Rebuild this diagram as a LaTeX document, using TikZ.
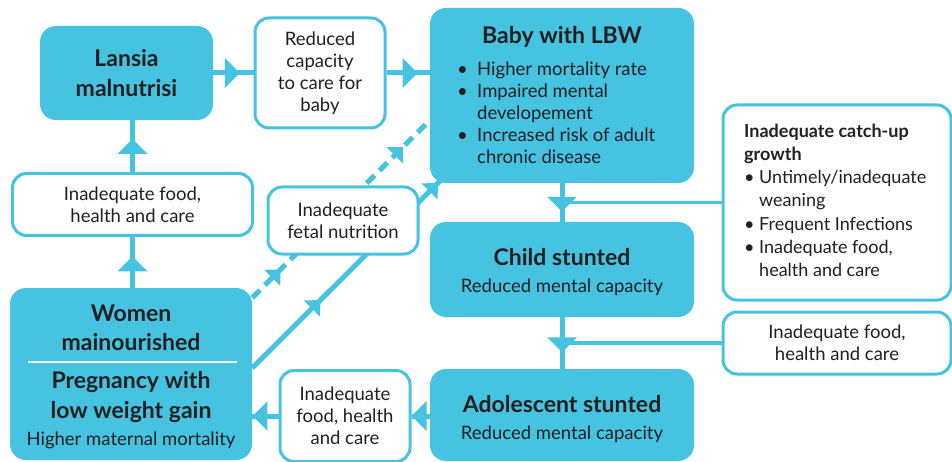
\documentclass[tikz,border=0pt]{standalone}
\usepackage{fontspec}
\setmainfont{Lato}
\usetikzlibrary{calc,positioning,arrows.meta,decorations.markings}

\definecolor{lbwcyan}{RGB}{69,195,224}
\definecolor{lbwink}{RGB}{35,31,32}
\newcommand{\bodyfont}{\fontsize{18.5}{22}\selectfont}
\newcommand{\headfont}{\fontsize{23}{29.5}\selectfont\bfseries}
\newcommand{\bul}[1][20pt]{\makebox[#1][l]{\textbullet}}
\newcommand{\cont}[1][20pt]{\hspace*{#1}}

\begin{document}
\begin{tikzpicture}[
      x=1pt, y=-1pt,
      every node/.style={
        text=lbwink,
        font=\bodyfont,
        align=center
      },
      fillbox/.style={
        fill=lbwcyan,
        rounded corners=16pt,
        inner sep=0pt
      },
      linebox/.style={
        draw=lbwcyan,
        line width=3pt,
        fill=white,
        rounded corners=14pt,
        inner sep=0pt
      },
      conn/.style={
        color=lbwcyan,
        line width=5pt
      },
      tconn/.style={
        color=lbwcyan,
        line width=3.3pt
      },
      midtip/.style={
        decoration={markings,
          mark=at position #1 with {\arrow{Triangle[width=29pt,length=15pt]}}},
        postaction={decorate}
      },
      diagtips/.style 2 args={
        decoration={markings,
          mark=at position #1 with {\arrow{Triangle[width=22pt,length=12pt]}},
          mark=at position #2 with {\arrow{Triangle[width=22pt,length=12pt]}}},
        postaction={decorate}
      }
    ]
      \useasboundingbox (0,0) rectangle (952,462);
      \clip (0,0) rectangle (952,462);

      % boxes
      \node[fillbox, minimum width=173pt, minimum height=94pt, font=\headfont]
        (lansia) at (126.5,73) {Lansia\\malnutrisi};
      \node[linebox, minimum width=130pt, minimum height=110pt]
        (reduced) at (320,73) {Reduced\\capacity\\to care for\\baby};

      \node[fillbox, minimum width=264pt, minimum height=175pt]
        (baby) at (562,95.5) {};
      \node[font=\headfont] (babyhead) at (562,37) {Baby with LBW};
      \node[anchor=north west, align=left, inner sep=0pt]
        (babylist) at (457,62)
        {\bul Higher mortality rate\\\bul Impaired mental\\\cont developement\\
         \bul Increased risk of adult\\\cont chronic disease};

      \node[linebox, minimum width=240pt, minimum height=62pt]
        (foodL) at (132.5,204.5) {Inadequate food,\\health and care};

      \node[fillbox, minimum width=242pt, minimum height=172pt]
        (women) at (131,374) {};
      \node[font=\headfont] (womenhead) at (131,328) {Women\\mainourished};
      \draw[white, line width=2pt] (28,362) -- (237,362);
      \node[font=\headfont] (preghead) at (131,397) {Pregnancy with\\low weight gain};
      \node (pregnote) at (131,440) {Higher maternal mortality};

      \node[fillbox, minimum width=264pt, minimum height=95pt]
        (child) at (562,269.5) {};
      \node[font=\headfont] (childhead) at (562,257) {Child stunted};
      \node (childnote) at (562,287) {Reduced mental capacity};

      \node[fillbox, minimum width=264pt, minimum height=92pt]
        (adol) at (562,415) {};
      \node[font=\headfont] (adolhead) at (562,404) {Adolescent stunted};
      \node (adolnote) at (562,434) {Reduced mental capacity};

      \node[linebox, minimum width=228pt, minimum height=195pt]
        (catch) at (837,202.5) {};
      \node[anchor=north west, align=left, inner sep=0pt,
        font=\fontsize{18}{23.3}\selectfont]
        (catchlist) at (744,123.5)
        {\textbf{Inadequate catch-up}\\\textbf{growth}\\
         \bul[15pt]Untimely/inadequate\\\cont[15pt]weaning\\
         \bul[15pt]Frequent Infections\\
         \bul[15pt]Inadequate food,\\\cont[15pt]health and care};

      \node[linebox, minimum width=228pt, minimum height=62pt]
        (foodR) at (837,343) {Inadequate food,\\health and care};
      \node[linebox, minimum width=130pt, minimum height=91pt]
        (foodB) at (345,416) {Inadequate\\food, health\\and care};

      % connectors
      \draw[conn, midtip=0.66] (lansia.east) -- (reduced.west);
      \draw[conn, midtip=0.72] (reduced.east) -- (reduced.east -| baby.west);
      \draw[conn, midtip=0.62] (women.north -| foodL.south) -- (foodL.south);
      \draw[conn, midtip=0.64] (foodL.north) -- (foodL.north |- lansia.south);

      \draw[conn, midtip=0.74] (baby.south) -- (child.north);
      \draw[tconn] (catch.west) -- (catch.west -| baby.south);
      \draw[conn, midtip=0.68] (child.south) -- (adol.north);
      \draw[tconn] (foodR.west) -- (foodR.west -| child.south);

      \draw[conn, midtip=0.99] (adol.west |- foodB.east) -- (foodB.east);
      \draw[conn, midtip=0.99] (foodB.west) -- (foodB.west -| women.east);

      \draw[conn, dash pattern=on 11pt off 7pt, diagtips={0.16}{0.85}]
        ($(women.north east)+(0,10)$) -- ($(baby.south west)+(0,-63)$);
      \draw[conn, diagtips={0.36}{0.98}]
        ($(women.east)+(0,-6)$) -- ($(baby.south west)+(12,-4)$);

      % drawn last, over the two diagonals
      \node[linebox, minimum width=150pt, minimum height=67pt]
        (fetal) at (343,220.5) {Inadequate\\fetal nutrition};
    \end{tikzpicture}
\end{document}
